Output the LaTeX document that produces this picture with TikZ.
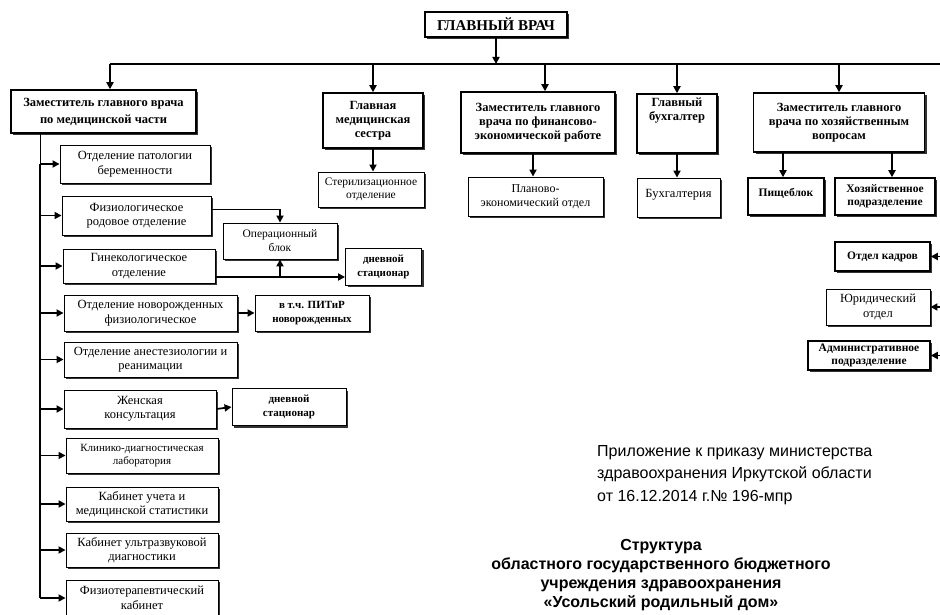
\documentclass[tikz,border=0pt]{standalone}
\usepackage{fontspec}
\setmainfont{Liberation Serif}
\newfontfamily\sansf{Liberation Sans}
\usetikzlibrary{arrows.meta,shadows,calc}
\begin{document}
\begin{tikzpicture}[x=1pt,y=-1pt,
  shd/.style={drop shadow={shadow xshift=2pt,shadow yshift=-2pt,fill=black!80,opacity=1}},
  box/.style={draw,line width=0.9pt,fill=white,align=center,inner sep=1pt,shd,
     font=\fontsize{12.5}{14.5}\selectfont},
  hbox/.style={box,line width=1.5pt,font=\bfseries\fontsize{12.5}{14}\selectfont},
  rbox/.style={hbox,font=\bfseries\fontsize{11.5}{13}\selectfont},
  sbox/.style={box,font=\bfseries\fontsize{11}{14}\selectfont},
  arr/.style={line width=1.7pt,-{Triangle[length=7pt,width=7pt]}},
  busln/.style={line width=2.6pt},
]
\fill[white] (0,0) rectangle (940,615);
\useasboundingbox (0,0) rectangle (940,615);

% top
\node[hbox,minimum width=142pt,minimum height=25pt,font=\bfseries\fontsize{15}{17}\selectfont] (gv) at (496,24.5) {ГЛАВНЫЙ ВРАЧ};
\coordinate (busL) at (110,64);
\coordinate (busR) at (940,64);

\node[hbox,minimum width=185pt,minimum height=43pt,font=\bfseries\fontsize{12.5}{17}\selectfont] (z1) at (103.5,111.5) {Заместитель главного врача\\по медицинской части};
\node[hbox,minimum width=100pt,minimum height=55pt] (gms) at (373,120.5) {Главная\\медицинская\\сестра};
\node[hbox,minimum width=154pt,minimum height=61pt] (zf) at (538,122.5) {Заместитель главного\\врача по финансово-\\экономической работе};
\node[hbox,minimum width=80pt,minimum height=59pt] (gb) at (677,123.5) {Главный\\бухгалтер\\~\\~};
\node[hbox,minimum width=171pt,minimum height=59pt] (zh) at (839,122.5) {Заместитель главного\\врача по хозяйственным\\вопросам};

\node[box,font=\fontsize{11.5}{13.5}\selectfont,minimum width=106pt,minimum height=35pt] (ster) at (371,189.5) {Стерилизационное\\отделение};
\node[box,font=\fontsize{12}{14}\selectfont,minimum width=135pt,minimum height=39pt] (plan) at (535.5,196.5) {Планово-\\экономический отдел};
\node[box,minimum width=83pt,minimum height=39pt] (buh) at (678.5,197.5) {\raisebox{9pt}{Бухгалтерия}};
\node[rbox,minimum width=76pt,minimum height=37pt] (pish) at (786,196.5) {\raisebox{8pt}{Пищеблок}};
\node[rbox,minimum width=100pt,minimum height=37pt] (hozp) at (885,196.5) {Хозяйственное\\подразделение};

\node[rbox,minimum width=95pt,minimum height=29pt] (kadr) at (882.5,256.5) {Отдел кадров};
\node[box,minimum width=104pt,minimum height=36pt] (yur) at (878,307) {Юридический\\отдел};
\node[rbox,minimum width=122pt,minimum height=29pt] (adm) at (869,355.5) {Административное\\подразделение};

% left column
\node[box,minimum width=150pt,minimum height=38pt] (c1) at (135,164) {Отделение патологии\\беременности};
\node[box,minimum width=149pt,minimum height=39pt] (c2) at (136.5,215.5) {Физиологическое\\родовое отделение};
\node[box,minimum width=152pt,minimum height=34pt] (c3) at (139,266) {Гинекологическое\\отделение};
\node[box,minimum width=173pt,minimum height=36pt] (c4) at (150.5,313) {Отделение новорожденных\\физиологическое};
\node[box,minimum width=173pt,minimum height=35pt] (c5) at (150.5,359.5) {Отделение анестезиологии и\\реанимации};
\node[box,minimum width=152pt,minimum height=38pt] (c6) at (140,409) {Женская\\консультация};
\node[box,font=\fontsize{11}{13}\selectfont,minimum width=152pt,minimum height=35pt] (c7) at (142,455.5) {Клинико-диагностическая\\лаборатория};
\node[box,minimum width=152pt,minimum height=34pt] (c8) at (142,504) {Кабинет учета и\\медицинской статистики};
\node[box,minimum width=152pt,minimum height=34pt] (c9) at (142,550) {Кабинет ультразвуковой\\диагностики};
\node[box,minimum width=152pt,minimum height=36pt] (c10) at (142,598) {Физиотерапевтический\\кабинет};

\node[box,font=\fontsize{11.5}{14}\selectfont,minimum width=114pt,minimum height=36pt] (op) at (280,241) {Операционный\\блок};
\node[sbox,minimum width=76pt,minimum height=37pt] (ds1) at (383.5,266.5) {дневной\\стационар};
\node[sbox,minimum width=114pt,minimum height=36pt] (pitir) at (312,313) {в т.ч. ПИТиР\\новорожденных};
\node[sbox,minimum width=114pt,minimum height=37pt] (ds2) at (289,407) {дневной\\стационар};

% connectors
\draw[busln] (busL) -- (busR);
\draw[arr] (gv.south) -- (gv.south |- busL);
\draw[arr] (busL) -- (busL |- z1.north);
\draw[arr] (gms.north |- busL) -- (gms.north);
\draw[arr] ([xshift=7pt]zf.north |- busL) -- ([xshift=7pt]zf.north);
\draw[arr] (gb.north |- busL) -- (gb.north);
\draw[arr] (zh.north |- busL) -- (zh.north);

\draw[arr] (gms.south) -- (gms.south |- ster.north);
\draw[arr] ([xshift=-5pt]zf.south) -- ([xshift=-5pt]zf.south |- plan.north);
\draw[arr] (gb.south) -- (gb.south |- buh.north);
\draw[arr] ([xshift=-3pt]pish.north |- zh.south) -- ([xshift=-3pt]pish.north);
\draw[arr] ([xshift=7pt]hozp.north |- zh.south) -- ([xshift=7pt]hozp.north);

\coordinate (re) at (940,0);
\draw[arr] (re |- kadr.east) -- (kadr.east);
\draw[arr] (re |- yur.east) -- (yur.east);
\draw[arr] (re |- adm.east) -- (adm.east);

\coordinate (tr) at (40,0);
\draw[line width=1pt] (tr |- z1.south) -- (tr |- c1.west);
\draw[line width=1.6pt] (tr |- c1.west) -- (tr |- c10.west);
\foreach \n in {c1,c2,c3,c4,c5,c6,c7,c8,c9,c10}
  \draw[arr] (tr |- \n.west) -- (\n.west);

\draw[arr] ([yshift=6pt]c2.east) -| (op.north);
\coordinate (g) at ($(c3.east)+(0,11)$);
\draw[arr] (g) -- (g -| ds1.west);
\draw[arr] (g -| op.south) -- (op.south);
\draw[arr] (c4.east) -- (pitir.west);
\draw[arr] (c6.east) -- (ds2.west);

% texts
\node[anchor=north west,align=left,inner sep=0pt,font=\sansf\fontsize{16}{22.5}\selectfont] (pril) at (597,445) {Приложение к приказу министерства\\здравоохранения Иркутской области\\от 16.12.2014 г.№ 196-мпр};
\node[anchor=north,align=center,inner sep=0pt,font=\sansf\bfseries\fontsize{16}{19}\selectfont] (title) at (661,539.5) {Структура\\областного государственного бюджетного\\учреждения здравоохранения\\«Усольский родильный дом»};
\end{tikzpicture}
\end{document}
